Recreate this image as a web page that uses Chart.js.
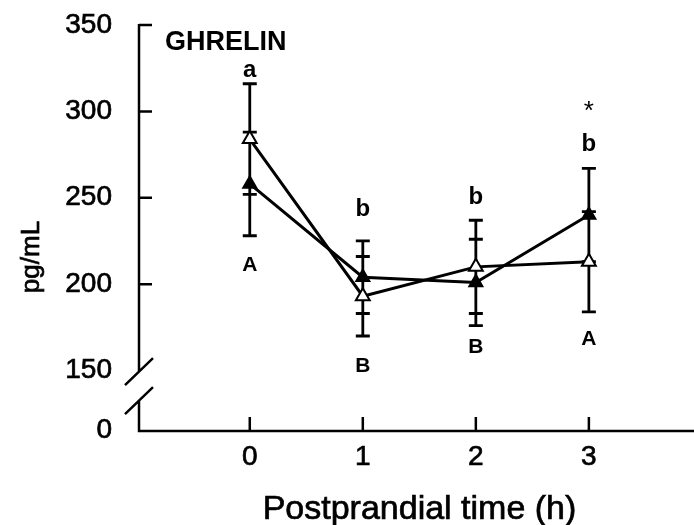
<!DOCTYPE html>
<html>
<head>
<meta charset="utf-8">
<script src="https://cdn.jsdelivr.net/npm/chart.js@4/dist/chart.umd.min.js"></script>
<style>
body { margin: 0; background: #fff; }
</style>
</head>
<body>
<canvas id="ghrelinChart" width="694" height="525"></canvas>
<script>
// postprandial sampling times (h)
const times = [0, 1, 2, 3];
// open triangles
const openMeans = [284, 193, 210, 213];
const openSE = [32, 23, 27, 29];
// filled triangles
const filledMeans = [258, 204, 201, 240];
const filledSE = [30, 21, 25, 27];

// tick labels (axis is broken between 0 and 150)
const yTickValues = [150, 200, 250, 300, 350];
const yTickLabels = ['150', '200', '250', '300', '350'];
const xTickLabels = ['0', '1', '2', '3'];

// letters over / under the error bars
const noteTimes = [0, 0, 1, 1, 2, 2, 3, 3, 3];
const noteValues = [324, 211, 243, 152.5, 250, 163.5, 281, 168, 300];
const noteTexts = ['a', 'A', 'b', 'B', 'b', 'B', 'b', 'A', '*'];

const ink = '#000';
const fontName = '"Liberation Sans", Arial, sans-serif';
const yMin = 115;

// regular text looks a little heavy in the original, so add a thin outline
function heavyText(ctx, txt, x, y) {
  ctx.fillText(txt, x, y);
  ctx.strokeText(txt, x, y);
}

const decor = {
  id: 'decor',
  beforeDatasetsDraw(chart) {
    const { ctx, chartArea } = chart;
    const x = chart.scales.x, y = chart.scales.y;
    const ax = chartArea.left;
    const bottom = chartArea.bottom;
    const brk = y.getPixelForValue(150);
    const b1 = brk + 1, b2 = brk + 30;
    ctx.save();
    ctx.strokeStyle = ink;
    ctx.lineWidth = 2.5;
    ctx.beginPath();
    // axis lines with the break
    ctx.moveTo(ax, y.getPixelForValue(350) - 1);
    ctx.lineTo(ax, b1);
    ctx.moveTo(ax, b2);
    ctx.lineTo(ax, bottom);
    ctx.lineTo(chart.width, bottom);
    // inward ticks
    yTickValues.slice(1).forEach(v => {
      const p = y.getPixelForValue(v);
      ctx.moveTo(ax, p);
      ctx.lineTo(ax + 13, p);
    });
    times.forEach(t => {
      const p = x.getPixelForValue(t);
      ctx.moveTo(p, bottom);
      ctx.lineTo(p, bottom - 14);
    });
    // break slashes
    [b1, b2].forEach(c => {
      ctx.moveTo(ax - 14, c + 13.5);
      ctx.lineTo(ax + 14, c - 13.5);
    });
    ctx.stroke();

    // error bars
    ctx.lineWidth = 2.8;
    ctx.beginPath();
    [[openMeans, openSE], [filledMeans, filledSE]].forEach(([m, se]) => {
      times.forEach((t, i) => {
        const px = x.getPixelForValue(t);
        const top = y.getPixelForValue(m[i] + se[i]);
        const bot = y.getPixelForValue(m[i] - se[i]);
        ctx.moveTo(px, top);
        ctx.lineTo(px, bot);
        ctx.moveTo(px - 7, top);
        ctx.lineTo(px + 7, top);
        ctx.moveTo(px - 7, bot);
        ctx.lineTo(px + 7, bot);
      });
    });
    ctx.stroke();
    ctx.restore();
  },
  afterDraw(chart) {
    const { ctx, chartArea } = chart;
    const x = chart.scales.x, y = chart.scales.y;
    ctx.save();
    ctx.fillStyle = ink;
    ctx.strokeStyle = ink;
    ctx.lineWidth = 0.7;

    // y tick labels
    ctx.font = '28px ' + fontName;
    ctx.textAlign = 'right';
    ctx.textBaseline = 'middle';
    yTickValues.forEach((v, i) => heavyText(ctx, yTickLabels[i], 112, y.getPixelForValue(v)));
    heavyText(ctx, '0', 112, y.getPixelForValue(yMin) - 1);

    // x tick labels
    ctx.textAlign = 'center';
    times.forEach((t, i) => heavyText(ctx, xTickLabels[i], x.getPixelForValue(t), 457));

    // axis titles
    ctx.font = '34px ' + fontName;
    ctx.textBaseline = 'alphabetic';
    heavyText(ctx, 'Postprandial time (h)', (chartArea.left + chartArea.right) / 2 + 3, 519);

    ctx.save();
    ctx.translate(39, 257);
    ctx.rotate(-Math.PI / 2);
    ctx.font = '26px ' + fontName;
    heavyText(ctx, 'pg/mL', 0, 0);
    ctx.restore();

    // panel label
    ctx.font = 'bold 27px ' + fontName;
    ctx.textAlign = 'left';
    ctx.textBaseline = 'middle';
    ctx.fillText('GHRELIN', 165, 43);

    // significance letters
    ctx.textAlign = 'center';
    noteTexts.forEach((txt, i) => {
      if (txt === '*') ctx.font = '26px ' + fontName;
      else if (txt === txt.toUpperCase()) ctx.font = 'bold 21px ' + fontName;
      else ctx.font = 'bold 24px ' + fontName;
      ctx.fillText(txt, x.getPixelForValue(noteTimes[i]), y.getPixelForValue(noteValues[i]));
    });
    ctx.restore();
  }
};

const ctx = document.getElementById('ghrelinChart').getContext('2d');
new Chart(ctx, {
  type: 'line',
  data: {
    datasets: [
      {
        label: 'open',
        data: times.map((t, i) => ({ x: t, y: openMeans[i] })),
        borderColor: ink,
        borderWidth: 3,
        pointStyle: 'triangle',
        pointRadius: 8,
        pointBackgroundColor: '#fff',
        pointBorderColor: ink,
        pointBorderWidth: 2,
        tension: 0
      },
      {
        label: 'filled',
        data: times.map((t, i) => ({ x: t, y: filledMeans[i] })),
        borderColor: ink,
        borderWidth: 3,
        pointStyle: 'triangle',
        pointRadius: 8,
        pointBackgroundColor: ink,
        pointBorderColor: ink,
        pointBorderWidth: 1.5,
        tension: 0
      }
    ]
  },
  options: {
    responsive: false,
    animation: false,
    events: [],
    layout: { autoPadding: false, padding: { top: 25, right: 0, bottom: 0, left: 0 } },
    plugins: { legend: { display: false }, tooltip: { enabled: false } },
    scales: {
      x: {
        type: 'linear',
        min: -0.98,
        max: 3.93,
        grid: { display: false },
        border: { display: false },
        ticks: { display: false },
        afterFit(s) { s.height = 94; }
      },
      y: {
        type: 'linear',
        min: yMin,
        max: 350,
        grid: { display: false },
        border: { display: false },
        ticks: { display: false },
        afterFit(s) { s.width = 139; }
      }
    }
  },
  plugins: [decor]
});
</script>
</body>
</html>
